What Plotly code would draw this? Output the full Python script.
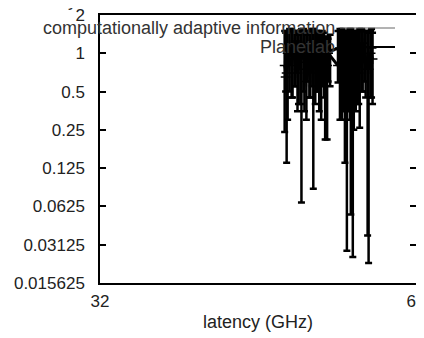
import math
import plotly.graph_objects as go

# ---- data ----
series_names = ["computationally adaptive information", "Planetlab"]

xa = [50.7, 50.9, 51.2, 51.5, 51.8, 52.1, 52.4, 52.7, 53.0, 53.3, 53.6, 53.9, 54.2, 54.5, 54.8, 55.1,
      56.1, 56.5, 56.8, 57.1, 57.4, 57.7, 58.0, 58.3, 58.6, 58.9, 59.2, 59.5]
ya = [0.8, 0.7, 1.1, 0.9, 1.25, 0.75, 1.2, 0.85, 1.0, 0.7, 1.15, 0.8, 0.95, 1.2, 0.7, 1.0,
      0.8, 1.1, 0.9, 0.7, 1.2, 0.75, 1.05, 0.85, 1.2, 0.9, 0.75, 1.1]
ya_hi = [1.5, 1.45, 1.55, 1.5, 1.5, 1.4, 1.55, 1.5, 1.5, 1.45, 1.55, 1.5, 1.45, 1.5, 1.35, 1.3,
         1.5, 1.55, 1.5, 1.45, 1.55, 1.5, 1.45, 1.55, 1.5, 1.5, 1.45, 1.55]
ya_lo = [0.24, 0.138, 0.5, 0.45, 0.55, 0.4, 0.067, 0.35, 0.6, 0.45, 0.086, 0.5, 0.35, 0.55, 0.21, 0.6,
         0.59, 0.3, 0.138, 0.35, 0.054, 0.25, 0.4, 0.26, 0.5, 0.45, 0.0224, 0.45]

xb = [50.8, 51.0, 51.4, 51.7, 52.0, 52.3, 52.6, 52.9, 53.2, 53.5, 53.8, 54.1, 54.4, 54.7, 55.0, 55.3,
      56.3, 56.6, 57.0, 57.3, 57.6, 57.9, 58.2, 58.5, 58.8, 59.1, 59.4, 59.6]
yb = [0.65, 1.0, 0.8, 1.2, 0.7, 0.9, 1.15, 0.6, 0.85, 1.2, 0.75, 1.1, 0.65, 0.9, 0.8, 1.05,
      1.1, 0.7, 0.9, 1.15, 0.8, 0.95, 0.7, 1.2, 0.85, 0.75, 1.0, 0.9]
yb_hi = [1.45, 1.5, 1.55, 1.5, 1.45, 1.5, 1.55, 1.4, 1.5, 1.55, 1.45, 1.5, 1.4, 1.45, 1.35, 1.4,
         1.55, 1.5, 1.5, 1.55, 1.5, 1.45, 1.5, 1.55, 1.5, 1.45, 1.5, 1.45]
yb_lo = [0.5, 0.3, 0.45, 0.55, 0.35, 0.4, 0.5, 0.3, 0.45, 0.55, 0.4, 0.5, 0.3, 0.45, 0.21, 0.55,
         0.3, 0.35, 0.028, 0.3, 0.025, 0.35, 0.4, 0.5, 0.6, 0.037, 0.45, 0.4]

y_tick_vals = [0.015625, 0.03125, 0.0625, 0.125, 0.25, 0.5, 1, 2]
y_tick_text = ["0.015625", "0.03125", "0.0625", "0.125", "0.25", "0.5", "1", "2"]
x_tick_vals = [32, 64]
x_tick_text = ["32", "64"]
x_title = "latency (GHz)"

FONT = "Liberation Sans, Arial, sans-serif"

fig = go.Figure()
for name, xs, ys, hi, lo in [(series_names[0], xa, ya, ya_hi, ya_lo),
                             (series_names[1], xb, yb, yb_hi, yb_lo)]:
    fig.add_trace(go.Scatter(
        x=xs, y=ys, name=name, mode="lines+markers",
        line=dict(color="black", width=3),
        marker=dict(symbol="cross-thin", size=7, line=dict(color="black", width=1.5)),
        error_y=dict(type="data", symmetric=False,
                     array=[h - v for h, v in zip(hi, ys)],
                     arrayminus=[v - l for v, l in zip(ys, lo)],
                     color="black", thickness=2.5, width=3.5),
        showlegend=False,
    ))

# the page body adds an 8px offset; margins compensate so the plot box
# lands at x 100..416, y 15..283 in the window
fig.update_layout(
    width=424, height=338,
    margin=dict(l=92, r=16, t=7, b=63),
    paper_bgcolor="white", plot_bgcolor="white",
    font=dict(family=FONT, size=17, color="#222"),
    xaxis=dict(range=[32, 64], tickvals=x_tick_vals, ticktext=x_tick_text,
               showgrid=False, zeroline=False, showline=True, linecolor="black",
               linewidth=1.5, mirror=True, ticks="", ticklabelstandoff=2,
               automargin=False, ticklabeloverflow="allow",
               title=dict(text=x_title, font=dict(size=18), standoff=5)),
    yaxis=dict(type="log", range=[math.log10(0.015625), math.log10(2)],
               tickvals=y_tick_vals, ticktext=y_tick_text,
               showgrid=False, zeroline=False, showline=True, linecolor="black",
               linewidth=1.5, mirror="ticks", ticks="inside", ticklen=6,
               tickcolor="black", tickwidth=1.5, ticklabelstandoff=10,
               automargin=False, ticklabeloverflow="allow"),
)

# gnuplot-style key: right-aligned text followed by a sample line
key_rows = [(28, "#666", 1), (47, "black", 2)]
for (py, col, w), name in zip(key_rows, series_names):
    yp = 1 - (py - 15) / 268
    fig.add_annotation(xref="paper", yref="paper", x=(337 - 100) / 316, y=yp,
                       text=name, showarrow=False, xanchor="right", yanchor="middle",
                       font=dict(size=18, color="#333"))
    fig.add_shape(type="line", xref="paper", yref="paper",
                  x0=(340 - 100) / 316, x1=(395 - 100) / 316, y0=yp, y1=yp,
                  line=dict(color=col, width=w))

# cut-off label at the very top
fig.add_annotation(xref="paper", yref="paper", x=(72 - 100) / 316, y=1 + (15 - 12) / 268,
                   text="y", showarrow=False, xanchor="center", yanchor="bottom",
                   font=dict(size=18, color="#333"))

fig.write_html("out.html")
